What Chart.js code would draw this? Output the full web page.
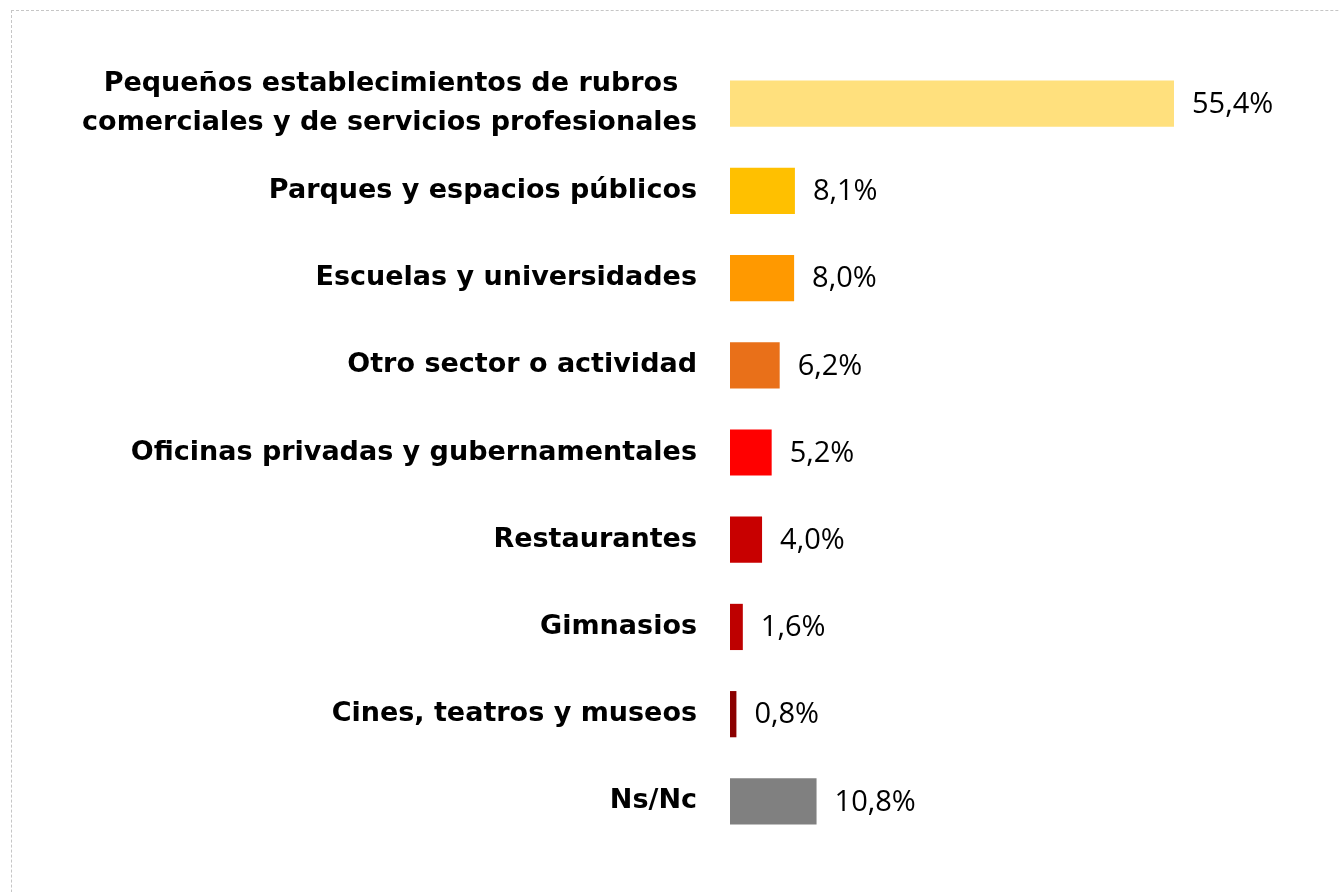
<!DOCTYPE html>
<html>
<head>
<meta charset="utf-8">
<script src="https://cdn.jsdelivr.net/npm/chart.js@4/dist/chart.umd.min.js"></script>
<style>
  html, body { margin: 0; padding: 0; background: #fff; overflow: hidden; }
  #frame {
    position: absolute; left: 11px; top: 10px;
    width: 2000px; height: 2000px;
    border: 1px dashed #c6c6c6;
  }
  #wrap { position: absolute; left: 0; top: 0; width: 1339px; height: 892px; }
</style>
</head>
<body>
<div id="frame"></div>
<div id="wrap"><canvas id="chart"></canvas></div>
<script>
// Categories (top to bottom)
const categories = [
  ['Pequeños establecimientos de rubros', 'comerciales y de servicios profesionales'],
  'Parques y espacios públicos',
  'Escuelas y universidades',
  'Otro sector o actividad',
  'Oficinas privadas y gubernamentales',
  'Restaurantes',
  'Gimnasios',
  'Cines, teatros y museos',
  'Ns/Nc'
];

// Share of answers, %
const values = [55.4, 8.1, 8.0, 6.2, 5.2, 4.0, 1.6, 0.8, 10.8];

const barColors = [
  '#FFE07D', '#FFC000', '#FF9900', '#E97019', '#FF0000',
  '#C80000', '#BE0000', '#8B0000', '#808080'
];

// Draws "55,4%" style labels at the end of each bar
const valueLabels = {
  id: 'valueLabels',
  afterDatasetsDraw(chart) {
    const ctx = chart.ctx;
    const meta = chart.getDatasetMeta(0);
    ctx.save();
    ctx.font = '400 29px "Open Sans", sans-serif';
    ctx.fillStyle = '#000';
    ctx.textAlign = 'left';
    ctx.textBaseline = 'middle';
    meta.data.forEach((bar, i) => {
      const txt = values[i].toFixed(1).replace('.', ',') + '%';
      ctx.fillText(txt, bar.x + 18, bar.y + 1);
    });
    ctx.restore();
  }
};

new Chart(document.getElementById('chart'), {
  type: 'bar',
  data: {
    labels: categories,
    datasets: [{
      data: values,
      backgroundColor: barColors,
      borderWidth: 0,
      barPercentage: 0.53,
      categoryPercentage: 1.0
    }]
  },
  options: {
    indexAxis: 'y',
    responsive: true,
    maintainAspectRatio: false,
    animation: false,
    layout: {
      padding: { top: 60, bottom: 47, left: 0, right: 48 }
    },
    scales: {
      x: {
        display: false,
        min: 0,
        max: 70
      },
      y: {
        grid: { display: false, drawTicks: false },
        border: { display: false },
        afterFit: (scale) => {
          scale.width = 730;
          // keep the tall two-line label from shrinking the plot
          scale.paddingTop = 0;
          scale.paddingBottom = 0;
        },
        ticks: {
          padding: 33,
          color: '#000',
          font: {
            family: '"DejaVu Sans", sans-serif',
            weight: 'bold',
            size: 27,
            lineHeight: 1.44
          },
          // first line of the two-line label sits centred over the second
          callback: function(value) {
            const lbl = this.getLabelForValue(value);
            if (Array.isArray(lbl)) {
              return [lbl[0] + '\u00a0\u00a0', lbl[1]];
            }
            return lbl;
          }
        }
      }
    },
    plugins: {
      legend: { display: false },
      tooltip: { enabled: false }
    }
  },
  plugins: [valueLabels]
});
</script>
</body>
</html>
